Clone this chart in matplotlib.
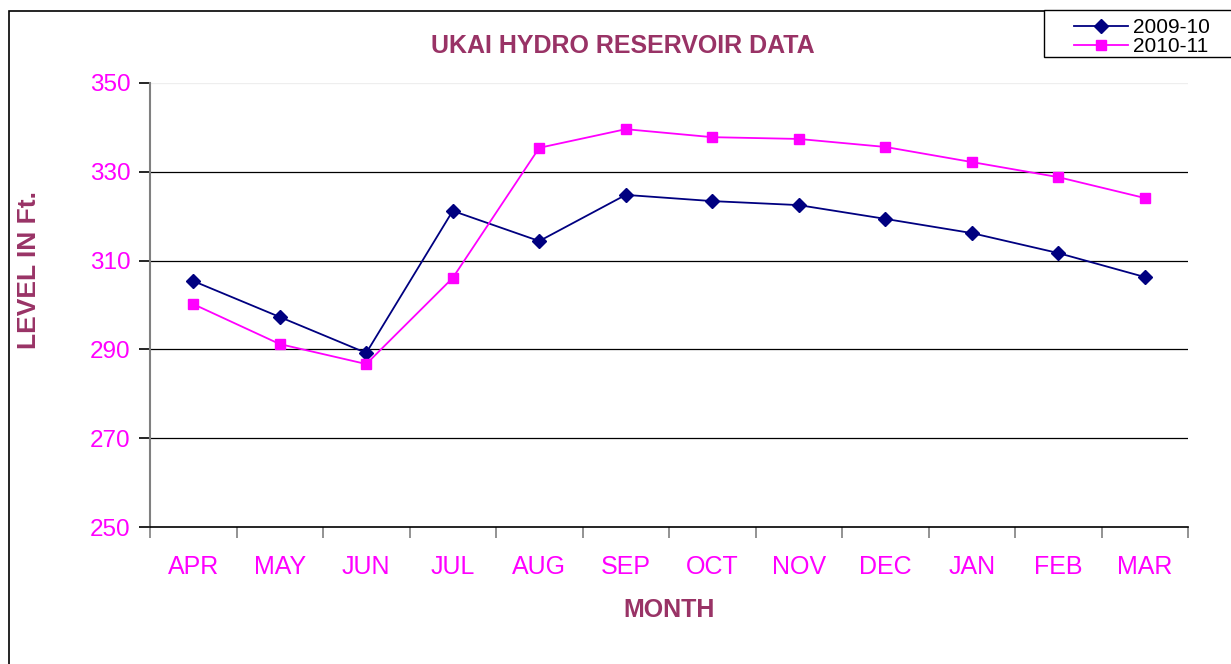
import numpy as np
import matplotlib
matplotlib.use("Agg")
from matplotlib import pyplot as plt
from matplotlib.patches import Rectangle

plt.rcParams['font.family'] = ['Liberation Sans', 'DejaVu Sans']

months = ['APR', 'MAY', 'JUN', 'JUL', 'AUG', 'SEP', 'OCT', 'NOV', 'DEC', 'JAN', 'FEB', 'MAR']
level_2009 = [305.4, 297.3, 289.2, 321.2, 314.4, 324.8, 323.4, 322.5, 319.4, 316.2, 311.7, 306.3]
level_2010 = [300.2, 291.2, 286.7, 306.1, 335.4, 339.6, 337.8, 337.4, 335.6, 332.2, 328.8, 324.1]
yticks = [250, 270, 290, 310, 330, 350]

plum = '#993366'
W, H = 1231, 664

fig = plt.figure(figsize=(12.31, 6.64), dpi=100)
# outer chart frame
fig.patches.append(Rectangle((9 / W, -0.1), 1.2, (H - 11) / H + 0.1,
                             transform=fig.transFigure, fill=False,
                             edgecolor='black', linewidth=1.2))
# legend frame (Excel style, wider than its content)
fig.patches.append(Rectangle((1044 / W, 1 - 57 / H), 0.2, 47 / H,
                             transform=fig.transFigure, fill=True, facecolor='white',
                             edgecolor='black', linewidth=1.0))

ax = fig.add_axes([150 / W, 137 / H, 1038 / W, 444 / H])
x = np.arange(len(months))
ax.plot(x, level_2009, color='#000080', marker='D', markersize=7, linewidth=1.3, label='2009-10')
ax.plot(x, level_2010, color='#FF00FF', marker='s', markersize=7, linewidth=1.3, label='2010-11')

ax.set_xlim(-0.5, len(months) - 0.5)
ax.set_ylim(250, 350)
ax.set_yticks(yticks)
ax.set_yticklabels([str(v) for v in yticks], color='#FF00FF', fontsize=17.5)
for v in yticks[1:-1]:
    ax.axhline(v, color='black', linewidth=0.9, zorder=0)
ax.axhline(350, color='#eeeeee', linewidth=0.9, zorder=0)

ax.set_xticks(x)
ax.set_xticklabels(months, color='#FF00FF', fontsize=18)
ax.tick_params(axis='x', length=0, pad=20)
ax.set_xticks(np.arange(-0.5, len(months)), minor=True)
ax.tick_params(axis='x', which='minor', length=8, color='#808080', width=1.2)
ax.tick_params(axis='y', length=8, color='black', width=1.2, pad=6)

for s in ['top', 'right']:
    ax.spines[s].set_visible(False)
ax.spines['left'].set_color('#808080')
ax.spines['left'].set_linewidth(1.5)
ax.spines['bottom'].set_color('black')
ax.spines['bottom'].set_linewidth(1.2)

fig.text(623 / W, 1 - 46 / H, 'UKAI HYDRO RESERVOIR DATA', color=plum,
         fontsize=18, fontweight='bold', ha='center', va='center')
fig.text(669 / W, 1 - 610 / H, 'MONTH', color=plum,
         fontsize=18, fontweight='bold', ha='center', va='center')
fig.text(29 / W, 1 - 270 / H, 'LEVEL IN Ft.', color=plum,
         fontsize=19, fontweight='bold', ha='center', va='center', rotation=90)

leg = fig.legend(loc='upper left', bbox_to_anchor=(1074 / W, 1 - 18 / H),
                 fontsize=15, frameon=False,
                 borderpad=0, labelspacing=0.0, handlelength=2.6, handletextpad=0.25,
                 borderaxespad=0)

fig.savefig('out.png', dpi=100)
